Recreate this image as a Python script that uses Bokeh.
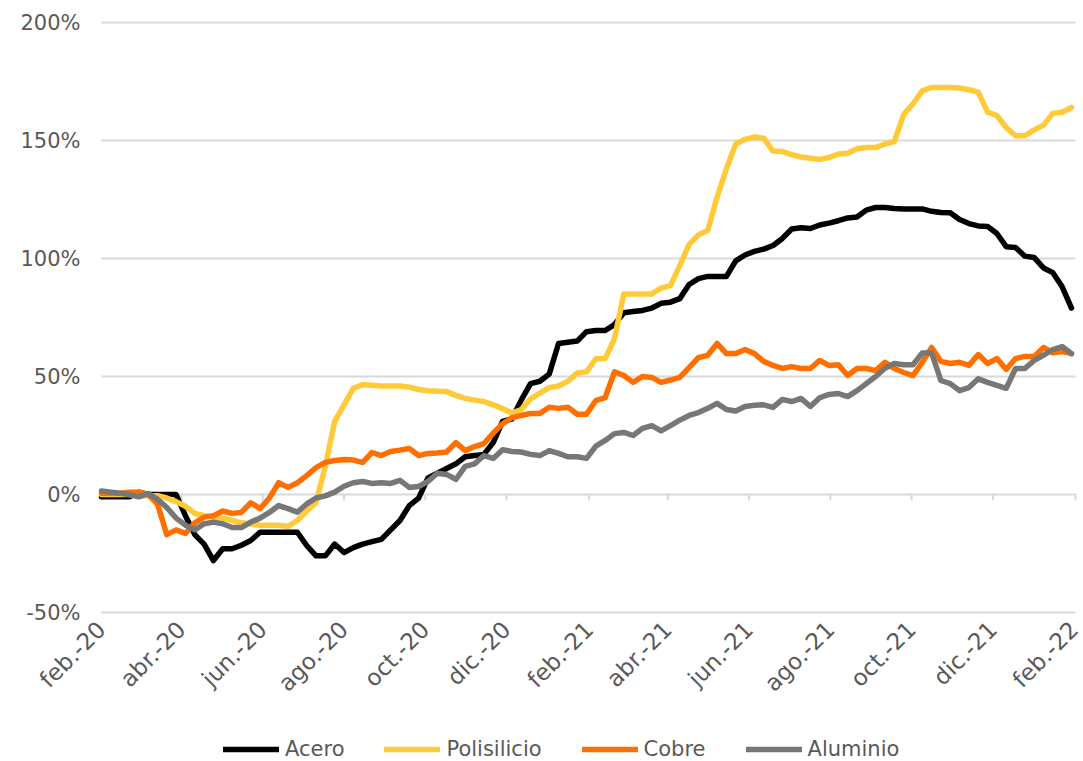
import math
import pandas as pd
from bokeh.plotting import figure
from bokeh.models import (Range1d, FixedTicker, PrintfTickFormatter, Legend,
                          LegendItem, ColumnDataSource)
from bokeh.embed import file_html
from bokeh.resources import INLINE

# ---------------- data ----------------
start_date = "2020-02-01"
end_date = "2022-02-01"
n_weeks = 105

acero = [-1, -1, -1, -1, 1, 0, 0, 0, 0, -9, -17, -21, -28, -23, -23, -21.5, -19.5, -16, -16, -16,
         -16, -16, -21.6, -26, -26, -21, -24.6, -22.5, -21, -20, -19, -15, -11, -4.7, -1.5, 7, 9, 11,
         13, 16, 16.5, 17, 22, 31, 32, 40, 47, 48, 51, 64, 64.5, 65, 69, 69.5, 69.5, 72, 77, 77.5,
         78, 79, 81, 81.5, 83, 89, 91.5, 92.4, 92.4, 92.4, 99, 101.5, 103, 104, 105.5, 108.5, 112.5,
         113, 112.7, 114.2, 115, 116, 117.2, 117.6, 120.5, 121.6, 121.6, 121.2, 121, 121, 121, 120,
         119.5, 119.4, 116.5, 114.8, 113.8, 113.6, 110.6, 105, 104.7, 101, 100.4, 96, 94, 88, 79]

polisilicio = [0, 0, 0, 0, -0.5, -0.5, -0.5, -1.5, -3, -5, -8, -9, -9.5, -10, -11, -12, -12.5, -13,
               -13, -13, -13.5, -11, -7, -3.5, 12, 31, 38, 45, 46.5, 46.3, 46, 46, 46, 45.5, 44.5, 44,
               43.8, 43.6, 42, 40.7, 40, 39.4, 38, 36.4, 34.5, 36, 40.5, 43, 45.3, 46, 48, 51.5, 52,
               57.5, 57.6, 66, 85, 85, 85, 85, 87.5, 88.5, 97, 106, 110, 112, 126, 138, 148.5, 150.5,
               151.5, 151, 145.5, 145.3, 144, 143, 142.5, 142, 142.8, 144.3, 144.6, 146.5, 147, 147,
               148.5, 149.5, 161, 165.5, 171, 172.5, 172.5, 172.5, 172.2, 171.5, 170.5, 162, 160.6,
               155.5, 152, 152, 154.5, 156.5, 161.5, 162, 164]

cobre = [0.5, 0.5, 0.5, 1, 1, 0, -4, -17, -15, -16.5, -12, -9.6, -9, -7, -8, -7.6, -3.5, -6, -1.5, 5,
         3, 5, 8, 11.4, 13.6, 14.4, 14.8, 14.6, 13.6, 17.8, 16.5, 18.2, 18.8, 19.5, 16.5, 17.4, 17.6,
         18, 22, 18.6, 20.3, 21.6, 26, 30, 32.5, 33.5, 34.3, 34.3, 37, 36.5, 37, 34, 34, 39.8, 41,
         52, 50.4, 47.5, 50, 49.6, 47.5, 48.5, 49.6, 53.8, 58, 59, 64, 59.7, 59.7, 61.4, 59.7, 56.4,
         54.7, 53.4, 54.2, 53.4, 53.4, 56.8, 54.7, 55, 50.4, 53.4, 53.4, 52.5, 56, 53.4, 51.7, 50.4,
         56, 62.3, 56.4, 55.5, 56, 54.7, 59.3, 55.5, 57.6, 53, 57.6, 58.5, 58.5, 62.3, 60, 60.6, 59.7]

aluminio = [1.5, 1, 0.5, 0, -1, 0.4, -2, -5.5, -10, -13, -15, -12.4, -11.7, -12.4, -14, -14, -11.7,
            -10, -7.6, -4.7, -6, -7.5, -4, -1.5, -0.6, 1, 3.5, 5, 5.5, 4.7, 5, 4.7, 6, 3, 3.4, 5.5,
            9, 8.5, 6.4, 11.9, 13, 16.5, 15.3, 19, 18.2, 18, 17, 16.5, 18.6, 17.4, 16, 16, 15.3, 20.5,
            22.9, 25.8, 26.3, 25, 28, 29.2, 27, 29.2, 31.5, 33.5, 34.7, 36.5, 38.6, 36, 35.4, 37.3,
            37.8, 38, 36.9, 40.3, 39.4, 40.7, 37.3, 41, 42.4, 42.8, 41.5, 44, 47, 50, 53.5, 55.5, 55,
            55, 60, 60, 48.3, 47, 44, 45.3, 49, 47.5, 46.2, 45, 53.4, 53.4, 56.8, 59, 61.4, 62.7, 59.7]

series_names = ["Acero", "Polisilicio", "Cobre", "Aluminio"]
series_colors = ["#000000", "#FFCA37", "#FF6F00", "#777777"]

tick_dates = ["2020-02-01", "2020-04-01", "2020-06-01", "2020-08-01", "2020-10-01", "2020-12-01",
              "2021-02-01", "2021-04-01", "2021-06-01", "2021-08-01", "2021-10-01", "2021-12-01",
              "2022-02-01"]
tick_labels = ["feb.-20", "abr.-20", "jun.-20", "ago.-20", "oct.-20", "dic.-20", "feb.-21",
               "abr.-21", "jun.-21", "ago.-21", "oct.-21", "dic.-21", "feb.-22"]
y_ticks = [-50, 0, 50, 100, 150, 200]

# ---------------- layout constants (pixels) ----------------
W, H = 1083, 761
PLOT_L, PLOT_R = 101, 1075      # where feb-20 / feb-22 sit
PLOT_T, PLOT_B = 22, 612        # where 200% / -50% sit


def ms(d):
    return float(pd.Timestamp(d).value // 10**6)


x0, x1 = ms(start_date), ms(end_date)
ms_per_px = (x1 - x0) / (PLOT_R - PLOT_L)
y_lo, y_hi = min(y_ticks), max(y_ticks)
u_per_px = (y_hi - y_lo) / (PLOT_B - PLOT_T)

x_range = Range1d(x0 - PLOT_L * ms_per_px, x1 + (W - PLOT_R) * ms_per_px)
y_range = Range1d(y_lo - (H - PLOT_B) * u_per_px, y_hi + PLOT_T * u_per_px)

dates = pd.date_range(start_date, periods=n_weeks, freq="7D")
source = ColumnDataSource(dict(x=dates, acero=acero, polisilicio=polisilicio,
                               cobre=cobre, aluminio=aluminio))

FONT = "DejaVu Sans"
TXT = "#595959"
GRID = "#D9D9D9"

p = figure(frame_width=W, frame_height=H, x_axis_type="datetime", output_backend="svg",
           toolbar_location=None, x_range=x_range, y_range=y_range,
           min_border_left=0, min_border_right=0, min_border_top=0, min_border_bottom=0)
p.outline_line_color = None
p.background_fill_color = "white"
p.border_fill_color = "white"
p.xgrid.grid_line_color = None
p.ygrid.grid_line_color = None

# horizontal gridlines spanning the dated period only
p.segment(x0=[x0] * len(y_ticks), y0=y_ticks, x1=[x1] * len(y_ticks), y1=y_ticks,
          line_color=GRID, line_width=2)

# y axis hung at the first date
p.yaxis.fixed_location = x0
p.yaxis.ticker = FixedTicker(ticks=y_ticks)
p.yaxis.formatter = PrintfTickFormatter(format="%d%%")
p.yaxis.axis_line_color = None
p.yaxis.major_tick_line_color = None
p.yaxis.minor_tick_line_color = None
p.yaxis.major_tick_out = 0
p.yaxis.major_tick_in = 0
p.yaxis.major_label_standoff = 21
p.yaxis.major_label_text_font = FONT
p.yaxis.major_label_text_font_size = "21px"
p.yaxis.major_label_text_color = TXT

# x axis hung at the -50% line
tick_ms = [ms(d) for d in tick_dates]
p.xaxis.fixed_location = y_lo
p.xaxis.ticker = FixedTicker(ticks=tick_ms)
p.xaxis.major_label_overrides = {t: lab for t, lab in zip(tick_ms, tick_labels)}
p.xaxis.major_label_orientation = math.pi / 4
p.xaxis.axis_line_color = None
p.xaxis.major_tick_line_color = None
p.xaxis.minor_tick_line_color = None
p.xaxis.major_tick_out = 0
p.xaxis.major_tick_in = 0
p.xaxis.major_label_standoff = 13
p.xaxis.major_label_text_font = FONT
p.xaxis.major_label_text_font_size = "23px"
p.xaxis.major_label_text_color = TXT

# small tick marks on the 0% line
p.segment(x0=tick_ms, y0=[0] * len(tick_ms), x1=tick_ms, y1=[-2.5] * len(tick_ms),
          line_color=GRID, line_width=2)

renderers = []
for name, col, color in zip(series_names, ["acero", "polisilicio", "cobre", "aluminio"], series_colors):
    r = p.line("x", col, source=source, line_color=color, line_width=5.5,
               line_join="round", line_cap="round")
    renderers.append(r)

legend = Legend(items=[LegendItem(label=n, renderers=[r]) for n, r in zip(series_names, renderers)],
                orientation="horizontal", location=(223, 0),
                glyph_width=56, glyph_height=20, label_standoff=6, spacing=40,
                padding=4, margin=0, border_line_color=None, background_fill_alpha=0,
                label_text_font=FONT, label_text_font_size="21px", label_text_color=TXT)
p.add_layout(legend, "center")

open("out.html", "w").write(file_html(p, INLINE))
